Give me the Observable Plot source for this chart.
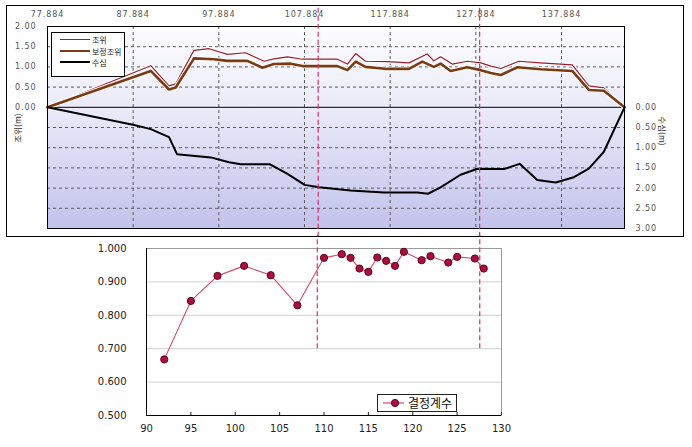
<!DOCTYPE html>
<html><head><meta charset="utf-8">
<script src="https://cdn.jsdelivr.net/npm/d3@7"></script>
<script src="https://cdn.jsdelivr.net/npm/@observablehq/plot@0.6"></script>
<style>
body{margin:0;background:#fff;}
#wrap{position:relative;width:692px;height:447px;overflow:hidden;font-family:"DejaVu Sans",sans-serif;}
#outer{position:absolute;left:6px;top:5px;width:678px;height:232px;border:1px solid #000;box-sizing:border-box;}
#topc{position:absolute;left:0;top:0;}
#botc{position:absolute;left:0;top:235px;}
#topc text{letter-spacing:0.9px;}
.kr{font-family:"Noto Sans CJK KR",sans-serif;}
#leg1{position:absolute;left:51px;top:32px;width:74px;height:45px;border:1px solid #000;background:#fff;box-sizing:border-box;}
.row{position:absolute;left:8px;height:10px;display:flex;align-items:center;font-size:8px;color:#222;}
.sw{width:30px;height:0;margin-right:2px;}
#leg2{position:absolute;left:377px;top:394px;width:80px;height:18px;border:1px solid #222;background:#fff;box-sizing:border-box;}
.ttl{position:absolute;font-size:8.5px;color:#333;white-space:nowrap;}
</style></head>
<body><div id="wrap">
<div id="outer"></div>
<div id="topc"></div>
<div id="botc"></div>
<div id="leg1">
  <div class="row kr" style="top:1px"><div class="sw" style="border-top:1.2px solid #9c1c2c"></div>조위</div>
  <div class="row kr" style="top:13px"><div class="sw" style="border-top:2.6px solid #7a3a12"></div>보정조위</div>
  <div class="row kr" style="top:24px"><div class="sw" style="border-top:2px solid #000"></div>수심</div>
</div>
<div class="ttl kr" style="left:17px;top:128px;transform:translate(-50%,-50%) rotate(-90deg)">조위(m)</div>
<div class="ttl kr" style="left:663px;top:131px;transform:translate(-50%,-50%) rotate(90deg)">수심(m)</div>
<div id="leg2">
  <svg width="26" height="16" style="position:absolute;left:3px;top:0">
    <line x1="2" y1="8" x2="23" y2="8" stroke="#d24d6e" stroke-width="1.2"/>
    <circle cx="14" cy="8" r="3.6" fill="#a8103e" stroke="#60001c"/>
  </svg>
  <span class="kr" style="position:absolute;left:30px;top:-1px;font-size:12px;color:#111;">결정계수</span>
</div>
</div>
<script>
// ---- top chart data ----
const xTicksTop = [77.884, 87.884, 97.884, 107.884, 117.884, 127.884, 137.884];
const xEndTop = 145.24;
const levelTicks = [0, 0.5, 1.0, 1.5, 2.0];
const depthTicks = [0, 0.5, 1.0, 1.5, 2.0, 2.5, 3.0];

const tideStation = [77.884, 89.94, 92.07, 92.85, 94.99, 96.74, 98.89, 101.0, 103.16, 104.32, 105.9, 107.64, 111.72, 112.89, 113.86, 115.0, 117.56, 120.08, 122.2, 122.99, 123.77, 125.14, 126.89, 128.46, 129.63, 130.8, 132.9, 135.45, 139.14, 141.08, 142.83, 145.24];
const tideLevel   = [0, 1.03, 0.53, 0.58, 1.41, 1.45, 1.31, 1.35, 1.14, 1.20, 1.25, 1.19, 1.19, 1.07, 1.33, 1.14, 1.13, 1.10, 1.32, 1.15, 1.25, 1.07, 1.14, 1.10, 1.02, 0.96, 1.14, 1.10, 1.05, 0.53, 0.48, 0];

const corrStation = [77.884, 89.94, 92.07, 92.85, 94.99, 97.32, 98.89, 101.22, 102.97, 104.32, 106.27, 107.64, 111.72, 112.89, 113.86, 115.0, 117.56, 120.08, 121.64, 122.99, 123.77, 124.94, 126.89, 128.46, 129.63, 130.8, 132.74, 135.45, 139.14, 141.08, 142.83, 145.24];
const corrLevel   = [0, 0.90, 0.44, 0.49, 1.21, 1.19, 1.15, 1.15, 0.98, 1.07, 1.08, 1.02, 1.02, 0.92, 1.13, 1.00, 0.95, 0.95, 1.13, 1.00, 1.08, 0.90, 0.99, 0.92, 0.85, 0.80, 0.99, 0.94, 0.90, 0.43, 0.41, 0];

const depthStation = [77.884, 87.99, 89.94, 92.07, 93.0, 96.94, 99.07, 100.44, 103.86, 105.9, 107.9, 109.58, 113.27, 117.16, 121.06, 122.3, 123.77, 126.1, 128.07, 131.16, 133.0, 135.06, 137.2, 139.33, 141.08, 142.83, 145.24];
const depthValue   = [0, 0.44, 0.54, 0.74, 1.16, 1.24, 1.36, 1.41, 1.41, 1.65, 1.92, 1.98, 2.06, 2.11, 2.11, 2.14, 1.98, 1.67, 1.52, 1.53, 1.40, 1.80, 1.86, 1.73, 1.52, 1.10, 0];

const markTop = [109.48, 128.33];

// ---- bottom chart data ----
const xTicksBot = [90, 95, 100, 105, 110, 115, 120, 125, 130];
const yTicksBot = [0.5, 0.6, 0.7, 0.8, 0.9, 1.0];
const r2Station = [92, 95, 98, 101, 104, 107, 110, 112, 113, 114, 115, 116, 117, 118, 119, 121, 122, 124, 125, 127, 128];
const r2Value   = [0.668, 0.843, 0.918, 0.948, 0.920, 0.830, 0.972, 0.983, 0.972, 0.940, 0.930, 0.973, 0.963, 0.948, 0.990, 0.965, 0.977, 0.958, 0.975, 0.970, 0.940];
const markBot = [109.24, 127.55];

const zip = (xs, ys) => xs.map((x, i) => ({x, y: ys[i]}));
const tide = zip(tideStation, tideLevel);
const corr = zip(corrStation, corrLevel);
const depth = zip(depthStation, depthValue);
const r2 = zip(r2Station, r2Value);

const gridLevels = levelTicks.filter(v => v > 0 && v < 2).concat(depthTicks.filter(v => v > 0 && v < 3).map(v => -v));
const dash = {stroke: "#e0306a", strokeDasharray: "5,3", strokeWidth: 1.2};

const topPlot = Plot.plot({
  width: 692, height: 235,
  marginLeft: 47, marginRight: 68, marginTop: 26, marginBottom: 7,
  style: {background: "transparent", fontSize: "8px", fontFamily: "DejaVu Sans, sans-serif", color: "#555", overflow: "visible"},
  x: {domain: [xTicksTop[0], xEndTop]},
  y: {domain: [-depthTicks[depthTicks.length - 1], levelTicks[levelTicks.length - 1]]},
  marks: [
    Plot.frame({fill: "url(#bgGrad)"}),
    Plot.ruleX(xTicksTop.slice(1), {stroke: "#5a5a5a", strokeDasharray: "3,3"}),
    Plot.ruleY(gridLevels, {stroke: "#5a5a5a", strokeDasharray: "3,3"}),
    Plot.ruleY([0], {stroke: "#000"}),
    Plot.line(tide, {x: "x", y: "y", stroke: "#fff", strokeWidth: 3.5}),
    Plot.line(tide, {x: "x", y: "y", stroke: "#9c1c2c", strokeWidth: 1.2}),
    Plot.line(corr, {x: "x", y: "y", stroke: "#fff", strokeWidth: 4.5}),
    Plot.line(corr, {x: "x", y: "y", stroke: "#7a3a12", strokeWidth: 2.6}),
    Plot.line(depth, {x: "x", y: d => -d.y, stroke: "#000", strokeWidth: 2}),
    Plot.frame({stroke: "#000"}),
    Plot.ruleX(markTop, {y1: 2.45, y2: -3.2, ...dash}),
    Plot.axisX(xTicksTop, {anchor: "top", tickSize: 0, tickPadding: 10, tickFormat: d => d.toFixed(3), label: null}),
    Plot.axisY(levelTicks, {anchor: "left", tickSize: 0, tickPadding: 11, tickFormat: d => d.toFixed(2), label: null}),
    Plot.axisY(depthTicks.map(v => -v), {anchor: "right", tickSize: 0, tickPadding: 11, tickFormat: d => Math.abs(d).toFixed(2), label: null})
  ]
});
// gradient background definition
const defs = document.createElementNS("http://www.w3.org/2000/svg", "defs");
defs.innerHTML = '<linearGradient id="bgGrad" x1="0" y1="0" x2="0" y2="1">' +
  '<stop offset="0" stop-color="#fdfdff"/><stop offset="0.4" stop-color="#ebebf9"/><stop offset="1" stop-color="#c2c2ec"/></linearGradient>';
topPlot.insertBefore(defs, topPlot.firstChild);
document.getElementById("topc").appendChild(topPlot);

const botPlot = Plot.plot({
  width: 692, height: 212,
  marginLeft: 146, marginRight: 191, marginTop: 13, marginBottom: 32,
  style: {background: "transparent", fontSize: "10px", fontFamily: "DejaVu Sans, sans-serif", color: "#222", overflow: "visible"},
  x: {domain: [xTicksBot[0], xTicksBot[xTicksBot.length - 1]]},
  y: {domain: [yTicksBot[0], yTicksBot[yTicksBot.length - 1]]},
  marks: [
    Plot.ruleY(yTicksBot.slice(1, -1), {stroke: "#cfcfcf"}),
    Plot.frame({stroke: "#9a9a9a"}),
    Plot.ruleX(xTicksBot.slice(0, 1), {stroke: "#000"}),
    Plot.ruleY(yTicksBot.slice(0, 1), {stroke: "#000"}),
    Plot.ruleX(markBot, {y1: 0.7, y2: 1.04, ...dash}),
    Plot.line(r2, {x: "x", y: "y", stroke: "#d24d6e", strokeWidth: 1.1}),
    Plot.dot(r2, {x: "x", y: "y", r: 3.6, fill: "#a8103e", stroke: "#60001c", strokeWidth: 1}),
    Plot.axisX(xTicksBot, {anchor: "bottom", tickSize: -3, tickPadding: 12, tickFormat: d => String(d), label: null}),
    Plot.axisY(yTicksBot, {anchor: "left", tickSize: 0, tickPadding: 20, tickFormat: d => d.toFixed(3), label: null})
  ]
});
document.getElementById("botc").appendChild(botPlot);
</script>
</body></html>
